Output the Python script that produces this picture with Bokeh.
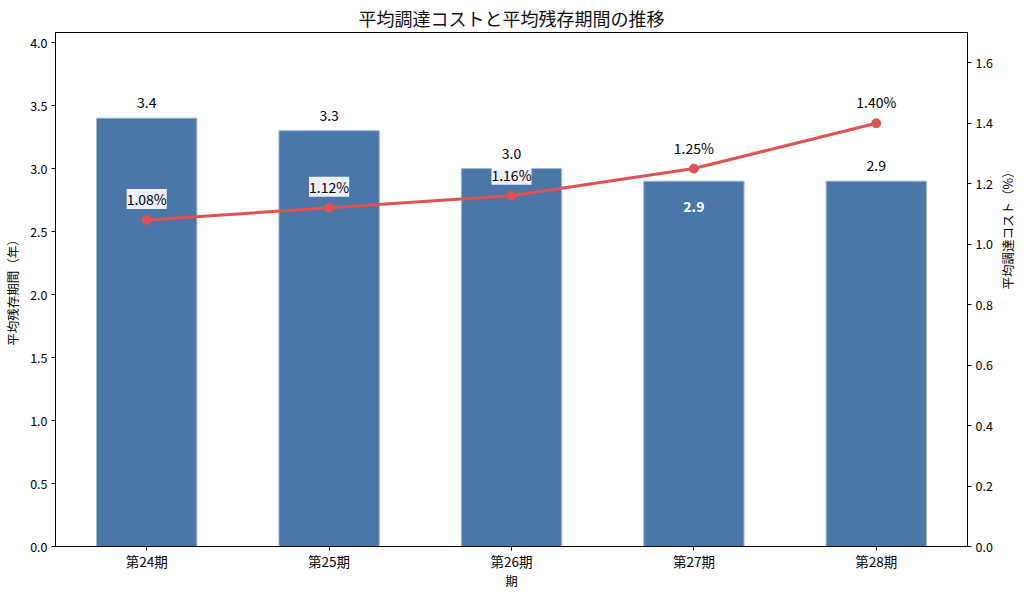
import math
from bokeh.plotting import figure
from bokeh.models import (ColumnDataSource, Range1d, LinearAxis, FixedTicker,
                          LabelSet, PrintfTickFormatter)
from bokeh.core.properties import value
from bokeh.embed import file_html
from bokeh.resources import INLINE

periods = ["第24期", "第25期", "第26期", "第27期", "第28期"]
remaining_years = [3.4, 3.3, 3.0, 2.9, 2.9]
funding_cost = [1.08, 1.12, 1.16, 1.25, 1.40]
left_ticks = [0.0, 0.5, 1.0, 1.5, 2.0, 2.5, 3.0, 3.5, 4.0]
right_ticks = [0.0, 0.2, 0.4, 0.6, 0.8, 1.0, 1.2, 1.4, 1.6]

FONT = "Noto Sans CJK JP"
BAR = "#4a76a8"
LINE = "#e05252"

xs = list(range(len(periods)))
inside = [False, False, False, True, False]

src = ColumnDataSource(dict(
    x=xs, yrs=remaining_years, cost=funding_cost,
    cost_lbl=[f"{v:.2f}%" for v in funding_cost],
))
above_idx = [i for i in xs if not inside[i]]
in_idx = [i for i in xs if inside[i]]
src_above = ColumnDataSource(dict(
    x=[xs[i] for i in above_idx], y=[remaining_years[i] for i in above_idx],
    t=[f"{remaining_years[i]:.1f}" for i in above_idx]))
src_in = ColumnDataSource(dict(
    x=[xs[i] for i in in_idx], y=[remaining_years[i] for i in in_idx],
    t=[f"{remaining_years[i]:.1f}" for i in in_idx]))

p = figure(frame_width=912, frame_height=514, output_backend="svg", toolbar_location=None,
           x_range=Range1d(-0.5, 4.5), y_range=Range1d(0, max(remaining_years) * 1.2),
           min_border_left=48, min_border_right=0, min_border_top=0, min_border_bottom=0)
p.extra_y_ranges = {"right": Range1d(0, 1.7)}

p.title.text = "平均調達コストと平均残存期間の推移"
p.title.align = "center"
p.title.text_font = FONT
p.title.text_font_size = "18px"
p.title.text_font_style = "normal"
p.title.text_color = "#111111"
p.title.standoff = 4
p.title.offset = 0

p.vbar(x="x", top="yrs", width=0.55, source=src, fill_color=BAR,
       line_color="#9fb6d1", line_width=1)

p.line(x="x", y="cost", source=src, y_range_name="right", line_color=LINE, line_width=3)
p.scatter(x="x", y="cost", source=src, y_range_name="right", size=9,
          fill_color=LINE, line_color=LINE)

p.add_layout(LabelSet(x="x", y="y", text="t", source=src_above, y_offset=10,
                      text_align="center", text_baseline="bottom",
                      text_font=value(FONT), text_font_size="14px", text_color="black"))
p.add_layout(LabelSet(x="x", y="y", text="t", source=src_in, y_offset=-20,
                      text_align="center", text_baseline="top",
                      text_font=value(FONT), text_font_size="14px", text_font_style="bold",
                      text_color="white"))
p.add_layout(LabelSet(x="x", y="cost", text="cost_lbl", source=src, y_range_name="right",
                      y_offset=11, text_align="center", text_baseline="bottom",
                      text_font=value(FONT), text_font_size="14px", text_color="black",
                      background_fill_color="white", background_fill_alpha=0.9))

p.xgrid.visible = False
p.ygrid.visible = False
p.outline_line_color = "black"
p.outline_line_alpha = 1

ax_r = LinearAxis(y_range_name="right", axis_label="平均調達コスト（%）")
p.add_layout(ax_r, "right")

for ax in [p.xaxis[0], p.yaxis[0], ax_r]:
    ax.axis_line_color = "black"
    ax.major_tick_line_color = "black"
    ax.major_tick_in = 0
    ax.major_tick_out = 4
    ax.minor_tick_line_color = None
    ax.major_label_text_font = FONT
    ax.major_label_text_font_size = "12.5px"
    ax.major_label_text_color = "black"
    ax.major_label_standoff = 4
    ax.axis_label_text_font = FONT
    ax.axis_label_text_font_size = "12.5px"
    ax.axis_label_text_font_style = "normal"
    ax.axis_label_text_color = "black"
    ax.axis_label_standoff = 5

p.xaxis.ticker = FixedTicker(ticks=xs)
p.xaxis.major_label_overrides = {i: lbl for i, lbl in zip(xs, periods)}
p.xaxis.axis_label = "期"
p.xaxis.major_label_text_font_size = "13.5px"
p.xaxis.axis_label_standoff = -3
p.xaxis.major_label_standoff = 0
p.yaxis[0].ticker = FixedTicker(ticks=left_ticks)
p.yaxis[0].formatter = PrintfTickFormatter(format="%.1f")
p.yaxis[0].axis_label = "平均残存期間（年）"
ax_r.ticker = FixedTicker(ticks=right_ticks)
ax_r.formatter = PrintfTickFormatter(format="%.1f")
ax_r.axis_label_orientation = math.pi / 2
ax_r.axis_label_standoff = 12

open("out.html", "w").write(file_html(p, INLINE))
